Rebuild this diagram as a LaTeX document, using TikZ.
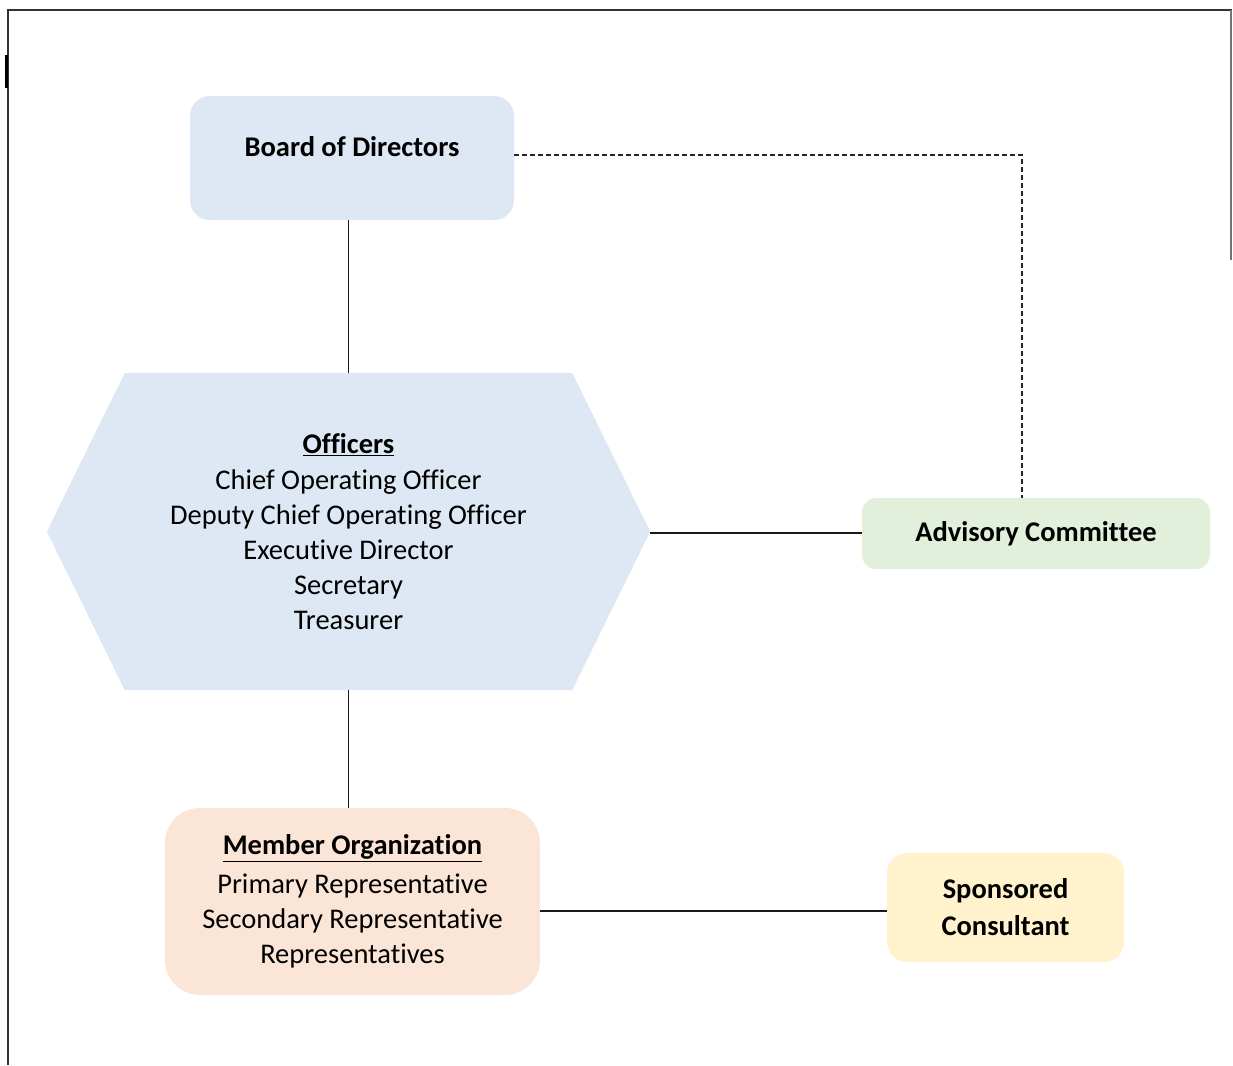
\documentclass[tikz,border=0pt]{standalone}
\usepackage{fontspec}
\setmainfont{Carlito}[Ligatures=NoCommon]
\usetikzlibrary{backgrounds}
\definecolor{boardblue}{RGB}{222,232,245}
\definecolor{advgreen}{RGB}{226,239,218}
\definecolor{mempeach}{RGB}{251,229,214}
\definecolor{sponyellow}{RGB}{255,242,204}
\tikzset{
  box/.style={rectangle, inner sep=0pt, align=center, text=black},
  connector/.style={line width=1.3pt, draw=black!90},
  dashedconn/.style={line width=1.3pt, draw=black!85, dash pattern=on 5pt off 3pt},
  frameline/.style={line width=1.5pt, draw=black!80},
}
\newcommand{\ulbold}[1]{\underline{\textbf{#1}}}
\begin{document}
\begin{tikzpicture}[x=1pt,y=-1pt,font=\fontsize{28.5}{35}\selectfont]
\useasboundingbox (0,0) rectangle (1233,1065);
% frame
\draw[frameline] (8,1065) -- (8,10) -- (1232,10);
\draw[line width=1.2pt, draw=black!55] (1231,10) -- (1231,260);
\draw[line width=3pt, draw=black] (6,55) -- (6,88);

% nodes
\node[box, fill=boardblue, rounded corners=20pt, minimum width=324pt, minimum height=124pt,
      font=\fontsize{28.5}{35}\selectfont\bfseries, text depth=24pt] (board) at (352,158) {Board of Directors};

\node[box, minimum width=603pt, minimum height=317pt] (officers) at (348.5,531.5)
  {\ulbold{Officers}\\[1pt]
   Chief Operating Officer\\
   Deputy Chief Operating Officer\\
   Executive Director\\
   Secretary\\
   Treasurer};
\begin{scope}[on background layer]
\fill[boardblue] (officers.west) -- ([xshift=78pt]officers.north west) -- ([xshift=-78pt]officers.north east)
  -- (officers.east) -- ([xshift=-78pt]officers.south east) -- ([xshift=78pt]officers.south west) -- cycle;
\end{scope}

\node[box, fill=advgreen, rounded corners=14pt, minimum width=348pt, minimum height=71pt,
      font=\fontsize{28.5}{35}\selectfont\bfseries] (advisory) at (1036,533.5) {Advisory Committee};

\node[box, fill=mempeach, rounded corners=35pt, minimum width=375pt, minimum height=187pt] (member) at (352.5,901.5)
  {\ulbold{Member Organization}\\[4pt]
   Primary Representative\\
   Secondary Representative\\
   Representatives};

\node[box, fill=sponyellow, rounded corners=20pt, minimum width=237pt, minimum height=109pt,
      font=\fontsize{28.5}{37}\selectfont\bfseries] (sponsored) at (1005.5,907.5) {Sponsored\\Consultant};

% connectors
\draw[connector] (officers.north) -- (officers.north |- board.south);
\draw[connector] (officers.south) -- (officers.south |- member.north);
\draw[connector] ([yshift=-1.5pt]officers.east) -- ([yshift=-1.5pt]officers.east -| advisory.west);
\draw[connector] ([yshift=-3.5pt]sponsored.west) -- ([yshift=-3.5pt]sponsored.west -| member.east);
\draw[dashedconn] ([yshift=3pt]board.east) -| ([xshift=-14pt]advisory.north);
\end{tikzpicture}
\end{document}
